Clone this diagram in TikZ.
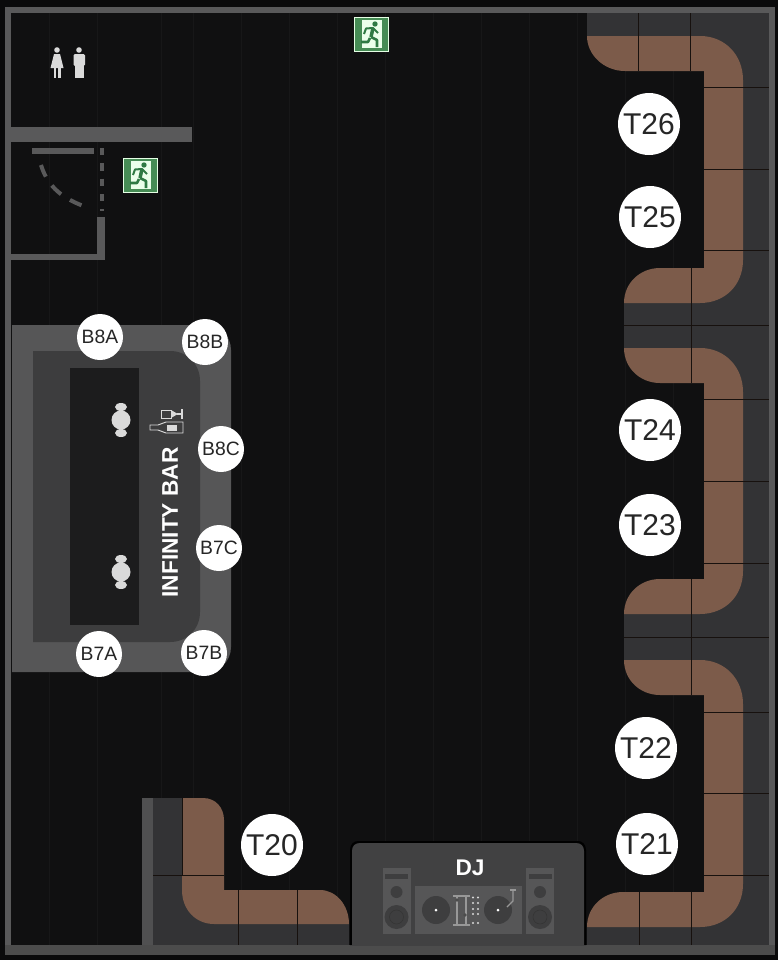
\documentclass[tikz,border=0pt]{standalone}
\usepackage{fontspec}
\setmainfont{Liberation Sans}
\usetikzlibrary{positioning}

\definecolor{outside}{HTML}{0A0A0B}
\definecolor{floorc}{HTML}{101011}
\definecolor{floorline}{HTML}{171718}
\definecolor{wall}{HTML}{59595A}
\definecolor{bench}{HTML}{333335}
\definecolor{seatc}{HTML}{7C5B4A}
\definecolor{seam}{HTML}{17110E}
\definecolor{barout}{HTML}{565657}
\definecolor{barin}{HTML}{3D3D3E}
\definecolor{barmid}{HTML}{1C1C1D}
\definecolor{djc}{HTML}{414142}
\definecolor{djgear}{HTML}{565657}
\definecolor{djdark}{HTML}{3E3E3F}
\definecolor{iconc}{HTML}{DADADA}
\definecolor{exitg}{HTML}{468C55}
\definecolor{exitman}{HTML}{2F7A44}

\tikzset{
  tablebadge/.style={circle, fill=white, text=black!85, minimum size=46.5pt, inner sep=0pt,
    font=\fontsize{22.5}{24}\selectfont},
  barbadge/.style={circle, fill=white, text=black!85, minimum size=34.5pt, inner sep=0pt,
    font=\fontsize{14.5}{16}\selectfont},
  seamline/.style={draw=seam, line width=0.55pt},
  seat/.style={fill=seatc},
  exitsign/.pic={
    \fill[exitg, draw=green!10!white, line width=0.6pt] (-17,-17) rectangle (17,17);
    \fill[white!92!green] (-9,-14) rectangle (11,14);
    \fill[exitman] (4,-10) circle (2.7);
    \draw[exitman, line width=2.6pt, line join=round] (2,-6) -- (0,3);
    \draw[exitman, line width=1.5pt, line join=round] (-7,0) -- (-5,-5.5) -- (2,-6) -- (7,-1);
    \draw[exitman, line width=1.9pt, line join=round] (0,3) -- (6,6) -- (6,13);
    \draw[exitman, line width=1.9pt, line join=round] (-1,4) -- (-3,8) -- (-10,8);
  },
  stool/.pic={
    \fill[iconc] (0,0) circle (9.5);
    \fill[iconc] (0,-13) ellipse (6 and 4);
    \fill[iconc] (0,13) ellipse (6 and 4);
  },
  speaker/.pic={
    \fill[djgear] (-14,-33) rectangle (14,33);
    \fill[djdark] (-11.5,-27) rectangle (11.5,-22);
    \fill[djdark] (0,-9) circle (6);
    \fill[djdark] (0,16) circle (12);
    \draw[djgear!60!black] (0,16) circle (7);
  },
  platter/.pic={
    \fill[djdark] (0,0) circle (14);
    \fill[white] (0,0) circle (1.5);
  }
}

\begin{document}
\begin{tikzpicture}[x=0.75pt, y=-0.75pt]
  \useasboundingbox (0,0) rectangle (778,960);
  \fill[outside] (0,0) rectangle (778,960);
  \fill[floorc] (11,13) rectangle (769,945);

  % floor boards
  \foreach \x in {49,97,161,193,241,289,337,385,433,481,529,577,625,673}
    \draw[floorline, line width=0.4pt] (\x,13) -- (\x,945);

  % walls
  \fill[wall] (5,7) rectangle (775,13);
  \fill[wall] (5,7) rectangle (11,955);
  \fill[wall] (769,7) rectangle (775,955);
  \fill[wall!85!black] (5,945) rectangle (775,955);
  \fill[wall] (11,127) rectangle (192,142);
  \fill[wall] (11,254) rectangle (105,260);
  \fill[wall] (97,217) rectangle (105,260);
  \fill[wall!90!black] (142,798) rectangle (153,945);

  % door
  \fill[wall] (32,148) rectangle (94,154);
  \draw[wall, line width=3.5pt, dash pattern=on 5.5pt off 6pt] (102,148) -- (102,211);
  \draw[wall, line width=3pt, dash pattern=on 9.5pt off 8pt]
    (41,165) .. controls (48,188) and (64,199) .. (86,207);

  % benches behind the seats
  \fill[bench] (587,13) rectangle (769,36);
  \fill[bench] (704,13) rectangle (769,945);
  \fill[bench] (624,303) rectangle (769,348);
  \fill[bench] (624,614) rectangle (769,660);
  \fill[bench] (587,927) rectangle (769,945);
  \fill[bench] (153,798) rectangle (182,945);
  \fill[bench] (153,890) rectangle (225,945);
  \fill[bench] (153,924) rectangle (349,945);

  % seats
  \path[seat] (587,36) -- (700,36) .. controls (725,36) and (743,55) .. (743,80)
    -- (743,260) .. controls (743,285) and (725,303) .. (700,303)
    -- (624,303) .. controls (624,283) and (640,268) .. (660,268)
    -- (704,268) -- (704,71) -- (625,71) .. controls (604,71) and (587,55) .. (587,36) -- cycle;
  \path[seat] (624,348) -- (700,348) .. controls (725,348) and (743,367) .. (743,392)
    -- (743,571) .. controls (743,596) and (725,614) .. (700,614)
    -- (624,614) .. controls (624,594) and (640,579) .. (660,579)
    -- (704,579) -- (704,383) -- (660,383) .. controls (640,383) and (624,368) .. (624,348) -- cycle;
  \path[seat] (624,660) -- (700,660) .. controls (725,660) and (743,679) .. (743,704)
    -- (743,884) .. controls (743,909) and (725,927) .. (700,927)
    -- (587,927) .. controls (587,907) and (603,892) .. (623,892)
    -- (704,892) -- (704,695) -- (660,695) .. controls (640,695) and (624,680) .. (624,660) -- cycle;
  \path[seat] (182,798) -- (203,798) .. controls (216,798) and (224,808) .. (224,820)
    -- (224,890) -- (320,890) .. controls (336,890) and (349,905) .. (349,924)
    -- (214,924) .. controls (196,924) and (182,910) .. (182,890) -- cycle;

  % seams
  \foreach \y in {87,169,250,399,481,563,712,793,875}
    \draw[seamline] (704,\y) -- (769,\y);
  \foreach \y in {325,637}
    \draw[seamline] (624,\y) -- (769,\y);
  \draw[seamline] (638,13) -- (638,71);
  \draw[seamline] (690,13) -- (690,71);
  \foreach \a/\b in {268/348,579/660,892/945}
    \draw[seamline] (691,\a) -- (691,\b);
  \draw[seamline] (691,348) -- (691,383);
  \draw[seamline] (691,660) -- (691,695);
  \draw[seamline] (639,892) -- (639,945);
  \draw[seamline] (153,875) -- (224,875);
  \draw[seamline] (182,798) -- (182,875);
  \draw[seamline] (238,890) -- (238,945);
  \draw[seamline] (297,890) -- (297,945);

  % bar
  \fill[barout] (12,325) -- (206,325) .. controls (220,325) and (231,336) .. (231,350)
    -- (231,647) .. controls (231,661) and (220,672) .. (206,672) -- (12,672) -- cycle;
  \fill[barin] (33,351) -- (170,351) .. controls (187,351) and (200,364) .. (200,381)
    -- (200,612) .. controls (200,629) and (187,642) .. (170,642) -- (33,642) -- cycle;
  \fill[barmid] (70,368) rectangle (139,625);
  \pic at (121,420) {stool};
  \pic at (121,572) {stool};

  % wine and bottle
  \draw[iconc, line width=0.7pt] (161,410) rectangle (171,418);
  \fill[iconc] (171,410) -- (177,413.5) -- (177,414.5) -- (171,418) -- cycle;
  \draw[iconc, line width=0.9pt] (177,414) -- (182,414);
  \draw[iconc, line width=1pt] (182,409) -- (182,419);
  \draw[iconc, line width=0.7pt] (150,425) -- (158,425) -- (166,422) -- (183,422)
    -- (183,433) -- (166,433) -- (158,430) -- (150,430) -- cycle;
  \fill[iconc] (167,424.5) rectangle (177,431);

  \node[rotate=90, text=white, font=\fontsize{17}{18}\selectfont\bfseries, inner sep=0pt] (barname)
    at (170,522.5) {INFINITY BAR};

  \node[barbadge] (b8a) at (100,337) {B8A};
  \node[barbadge] (b8b) at (205,342) {B8B};
  \node[barbadge] (b8c) at (221,449) {B8C};
  \node[barbadge] (b7c) at (219,548) {B7C};
  \node[barbadge] (b7a) at (99,654) {B7A};
  \node[barbadge] (b7b) at (204,653) {B7B};

  \node[tablebadge] (t26) at (649,124) {T26};
  \node[tablebadge] (t25) at (650,217) {T25};
  \node[tablebadge] (t24) at (650,430) {T24};
  \node[tablebadge] (t23) at (650,525) {T23};
  \node[tablebadge] (t22) at (646,748) {T22};
  \node[tablebadge] (t21) at (647,844) {T21};
  \node[tablebadge] (t20) at (272,845) {T20};

  % exits and restrooms
  \pic at (371,34) {exitsign};
  \pic at (140,175) {exitsign};

  \fill[iconc] (57,50) circle (2.8);
  \fill[iconc] (54,54) -- (60,54) -- (63.5,68) -- (50.5,68) -- cycle;
  \fill[iconc] (53.5,68) rectangle (56.3,78);
  \fill[iconc] (57.8,68) rectangle (60.5,78);
  \fill[iconc] (79,50) circle (2.8);
  \fill[iconc, rounded corners=1pt] (73.5,54) rectangle (85,66);
  \fill[iconc] (75,60) rectangle (83.5,78);

  % dj booth
  \fill[black] (350,945) -- (350,850) .. controls (350,844) and (354,841) .. (358,841)
    -- (578,841) .. controls (582,841) and (586,844) .. (586,850) -- (586,945) -- cycle;
  \fill[djc] (352,945) -- (352,851) .. controls (352,846) and (355,843) .. (360,843)
    -- (576,843) .. controls (581,843) and (584,846) .. (584,851) -- (584,945) -- cycle;
  \node[text=white, font=\fontsize{17}{18}\selectfont\bfseries, inner sep=0pt] (djname) at (470,868) {DJ};
  \pic at (396.5,901) {speaker};
  \pic at (540,901) {speaker};
  \fill[djgear] (415,886) rectangle (522,934);
  \pic at (436,910) {platter};
  \pic at (498,910) {platter};
  \draw[iconc!70!black, line width=0.8pt] (457,896) -- (457,925);
  \draw[iconc!70!black, line width=0.8pt] (466,896) -- (466,925);
  \draw[iconc!70!black, line width=0.8pt] (453,896) -- (470,896);
  \draw[iconc!70!black, line width=0.8pt] (453,925) -- (470,925);
  \fill[black!70] (457,900) circle (1.8);
  \fill[black!70] (465,915) circle (1.8);
  \foreach \y in {897.5,903,909,914,923}
    \foreach \x in {473,478}
      \fill[white!85!black] (\x,\y) circle (1.1);
  \draw[iconc!70!black, line width=1pt] (513,890) -- (513,901) -- (507,907);
  \draw[iconc!70!black, line width=1.5pt] (510,889.5) -- (516,889.5);
\end{tikzpicture}
\end{document}
